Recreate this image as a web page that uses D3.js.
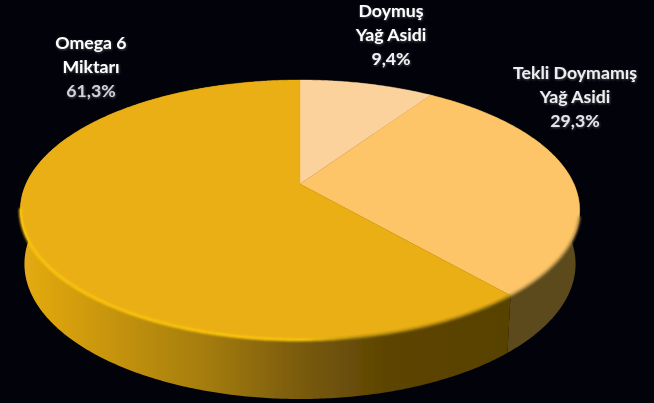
<!DOCTYPE html>
<html>
<head>
<meta charset="utf-8">
<script src="https://cdn.jsdelivr.net/npm/d3@7"></script>
<style>
html, body { margin: 0; padding: 0; background: #02020a; }
svg { display: block; }
text { font-family: Lato, "Open Sans", sans-serif; font-weight: 700; font-size: 17.7px; text-anchor: middle; }
</style>
</head>
<body>
<svg id="chart" width="654" height="403"></svg>
<script>
// Fatty acid shares, clockwise from twelve o'clock
const categories = ["Doymuş Yağ Asidi", "Tekli Doymamış Yağ Asidi", "Omega 6 Miktarı"];
const shares = [9.4, 29.3, 61.3];
const shareLabels = ["9,4%", "29,3%", "61,3%"];
const sliceColors = ["#fbd19c", "#fdc467", "#ebaf12"];
const labelLines = [["Doymuş", "Yağ Asidi"], ["Tekli Doymamış", "Yağ Asidi"], ["Omega 6", "Miktarı"]];
const labelAnchors = [[391, 17], [575, 79], [91, 49]];
const valueColors = ["#f4f4f6", "#e6e6ea", "#d2d3da"];
const nameColors = ["#ffffff", "#eeeef0", "#ffffff"];

const svg = d3.select("#chart");
const defs = svg.append("defs");

// Disc tilted toward the viewer: a circle under a projective map
const tilt = 0.2;
const topFace = { cx: 300, cy: 184, a: 274, b: 124.8 };
const baseFace = { cx: 300, cy: 237, a: 270, b: 129.6 };
function project(face, angle) {
  const u = Math.sin(angle), v = -Math.cos(angle), w = 1 - tilt * v;
  return [face.cx + face.a * u / w, face.cy + face.b * v / w];
}
function arcAngles(start, end) {
  const n = Math.max(2, Math.ceil((end - start) / 0.01));
  return d3.range(n + 1).map(i => start + (end - start) * i / n);
}
const line = d3.line();

const arcs = d3.pie().sort(null).value(d => d)(shares);

// Side-wall shading runs from lit left to shaded right
const wallGrad = defs.append("linearGradient").attr("id", "wallOmega")
  .attr("gradientUnits", "userSpaceOnUse").attr("x1", 21).attr("x2", 510).attr("y1", 0).attr("y2", 0);
[[0, "#e5ab12"], [0.17, "#c9960f"], [0.37, "#a67e10"], [0.57, "#7a5b0a"], [0.75, "#5c4405"], [1, "#594203"]]
  .forEach(([o, c]) => wallGrad.append("stop").attr("offset", o).attr("stop-color", c));

const rimGrad = defs.append("linearGradient").attr("id", "rim")
  .attr("gradientUnits", "userSpaceOnUse").attr("x1", 21).attr("x2", 580).attr("y1", 0).attr("y2", 0);
[[0, "#ffc90c"], [0.5, "#ffcb0a"], [0.6, "#b08a0c"], [0.87, "#a07c0c"], [0.88, "#b08c46"], [1, "#b08c46"]]
  .forEach(([o, c]) => rimGrad.append("stop").attr("offset", o).attr("stop-color", c));

defs.append("filter").attr("id", "soft").attr("x", "-5%").attr("y", "-5%").attr("width", "110%").attr("height", "110%")
  .append("feGaussianBlur").attr("stdDeviation", 1.3);
defs.append("filter").attr("id", "edge").attr("x", "-5%").attr("y", "-5%").attr("width", "110%").attr("height", "110%")
  .append("feGaussianBlur").attr("stdDeviation", 0.5);
const shadow = defs.append("filter").attr("id", "textShadow").attr("x", "-10%").attr("y", "-20%").attr("width", "120%").attr("height", "140%");
shadow.append("feDropShadow").attr("dx", 0.6).attr("dy", 1).attr("stdDeviation", 0.9).attr("flood-color", "#8a8a96").attr("flood-opacity", 0.55);

// Side walls, one per slice; the top face hides whatever lies behind the disc
const wallFills = ["#5c4a1e", "#5c4a1e", "url(#wallOmega)"];
svg.append("g").attr("filter", "url(#edge)").selectAll("path").data(arcs).join("path")
  .attr("fill", (d, i) => wallFills[i])
  .attr("d", d => {
    const angles = arcAngles(d.startAngle, d.endAngle);
    const pts = angles.map(a => project(topFace, a))
      .concat(angles.slice().reverse().map(a => project(baseFace, a)));
    return line(pts) + "Z";
  });

// Top face slices, fanned out from the projected centre
svg.append("g").attr("filter", "url(#edge)").selectAll("path").data(arcs).join("path")
  .attr("fill", (d, i) => sliceColors[i])
  .attr("stroke", (d, i) => sliceColors[i])
  .attr("stroke-width", 0.4)
  .attr("d", d => {
    const pts = arcAngles(d.startAngle, d.endAngle).map(a => project(topFace, a));
    return line([[topFace.cx, topFace.cy], ...pts]) + "Z";
  });

// Bevel along the front of the rim, between the widest points of the disc
const tau = Math.PI * 2;
svg.append("path")
  .attr("fill", "none")
  .attr("stroke", "url(#rim)")
  .attr("stroke-width", 2.6)
  .attr("stroke-linecap", "butt")
  .attr("filter", "url(#soft)")
  .attr("d", line(arcAngles(tau * 0.29, tau * 0.72).map(a => project(topFace, a))));

// Labels: name lines followed by the share
const labels = svg.append("g").attr("filter", "url(#textShadow)");
categories.forEach((name, i) => {
  const [x, y] = labelAnchors[i];
  const rows = labelLines[i];
  rows.forEach((row, r) => labels.append("text")
    .attr("x", x).attr("y", y + r * 24).attr("fill", nameColors[i]).text(row));
  labels.append("text").attr("x", x).attr("y", y + rows.length * 24)
    .attr("fill", valueColors[i]).text(shareLabels[i]);
});
</script>
</body>
</html>
